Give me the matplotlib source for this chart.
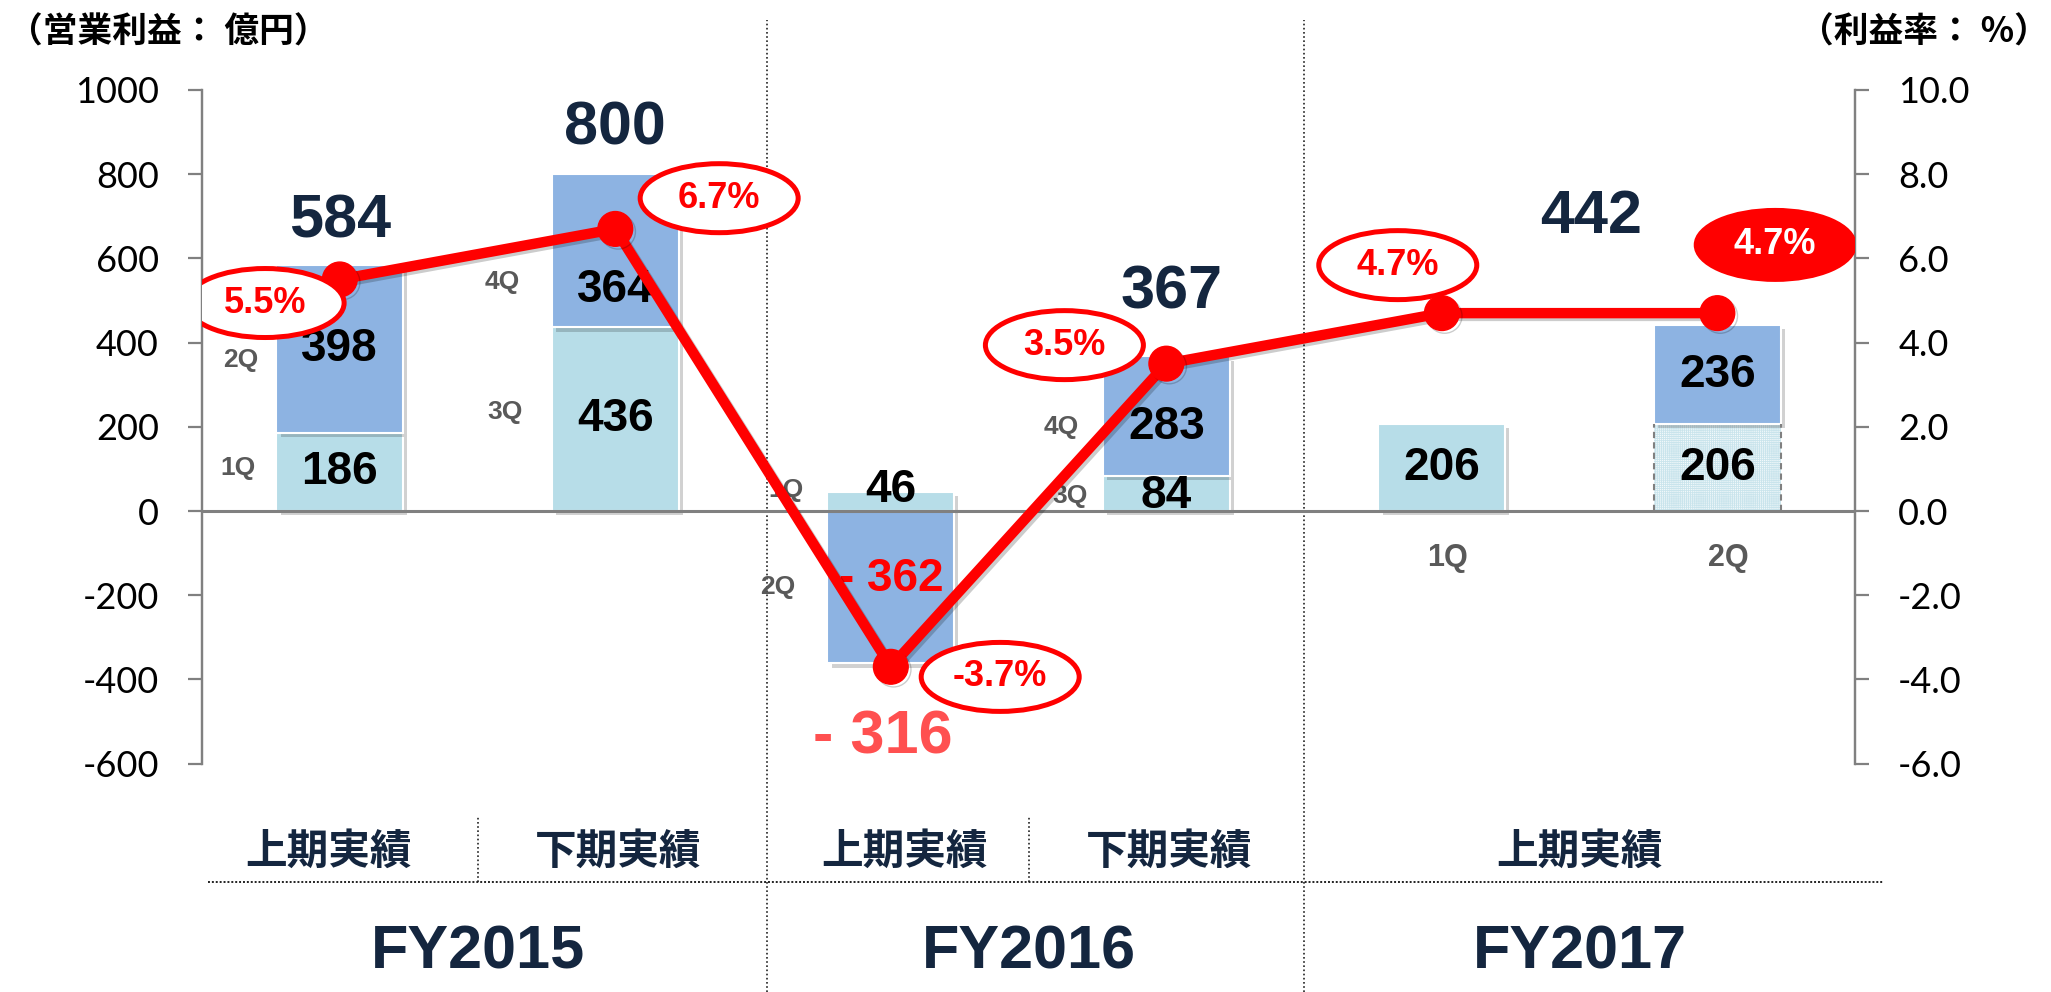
import matplotlib
matplotlib.use("Agg")
import matplotlib.pyplot as plt
from matplotlib import patheffects, transforms
from matplotlib.patches import Ellipse

# データ（億円 / %）
x_pos = [0.5, 1.5, 2.5, 3.5, 4.5, 5.5]
lower_vals = [186, 436, 46, 84, 206, 206]      # 1Q / 3Q
upper_vals = [398, 364, -362, 283, 0, 236]     # 2Q / 4Q
totals = [584, 800, -316, 367, 442]
margins = [5.5, 6.7, -3.7, 3.5, 4.7, 4.7]
q_names = ["1Q", "2Q", "3Q", "4Q", "1Q", "2Q", "3Q", "4Q", "1Q", "2Q"]
half_labels = ["上期実績", "下期実績", "上期実績", "下期実績", "上期実績"]
fy_labels = ["FY2015", "FY2016", "FY2017"]
left_ticks = [-600, -400, -200, 0, 200, 400, 600, 800, 1000]
right_ticks = [-6, -4, -2, 0, 2, 4, 6, 8, 10]

# 配置
total_pos = [(0.5, 686), (1.5, 907), (2.47, -539), (3.52, 518), (5.04, 698)]
q_pos = [(0.13, 102), (0.14, 359), (1.10, 235), (1.09, 544), (2.12, 50),
         (2.09, -180), (3.15, 36), (3.12, 200), (4.52, -112), (5.54, -112)]
q_size = [19] * 8 + [22, 22]
upper_dy = [0, -28, 6, -8, 0, 0]
ellipse_pos = [(0.229, 4.94), (1.877, 7.43), (2.897, -3.94), (3.13, 3.94),
               (4.34, 5.84), (5.71, 6.32)]
half_x = [0.46, 1.51, 2.55, 3.51, 5.0]
fy_x = [1.0, 3.0, 5.0]
sep_x = [2.05, 4.0]
sub_sep_x = [1.0, 3.0]

light = "#B7DDE8"
mid = "#8DB3E2"
navy = "#14263F"
red = "#FF0000"
bar_w = 0.46

plt.rcParams["axes.unicode_minus"] = False
plt.rcParams["hatch.linewidth"] = 0.6
num_font = "Liberation Sans"
jp_font = ["Noto Sans CJK JP", "DejaVu Sans"]

fig = plt.figure(figsize=(20.51, 9.92), dpi=100)
ax = fig.add_axes([0.0985, 0.2302, 0.806, 0.6791])
ax2 = ax.twinx()

shadow = [patheffects.withSimplePatchShadow(offset=(3, -3), shadow_rgbFace="black", alpha=0.18)]

# 棒グラフ
for i, (x, lo, up) in enumerate(zip(x_pos, lower_vals, upper_vals)):
    if i == 5:
        # 1Q累計分（点線枠）
        ax.bar(x, lo, width=bar_w, color="#F2F9FB", edgecolor="#C9E4EC", linewidth=0,
               hatch="++++++++", zorder=2)
        ax.vlines([x - bar_w / 2, x + bar_w / 2], 0, lo, colors="#808080",
                  linestyles=(0, (3, 2)), linewidth=1.5, zorder=3)
    else:
        ax.bar(x, lo, width=bar_w, color=light, edgecolor="white", linewidth=1.5,
               zorder=2, path_effects=shadow)
    if up != 0:
        bottom = lo if up > 0 else 0
        ax.bar(x, up, bottom=bottom, width=bar_w, color=mid, edgecolor="white",
               linewidth=1.5, zorder=2, path_effects=shadow)

# 棒の数値
for i, (x, lo, up) in enumerate(zip(x_pos, lower_vals, upper_vals)):
    ly = lo / 2
    if i == 2:
        ly = 50
    if i == 3:
        ly = 36
    ax.text(x, ly, str(lo), ha="center", va="center", fontsize=33,
            fontweight="bold", family=num_font, color="black", zorder=5)
    if up != 0:
        uy = lo + up / 2 if up > 0 else up / 2
        txt = str(up) if up > 0 else "- " + str(abs(up))
        col = "black" if up > 0 else red
        ax.annotate(txt, (x, uy), xytext=(0, upper_dy[i]), textcoords="offset points",
                    ha="center", va="center", fontsize=33, fontweight="bold",
                    family=num_font, color=col, zorder=5)

# 合計
for (tx, ty), v in zip(total_pos, totals):
    txt = str(v) if v > 0 else "- " + str(abs(v))
    col = navy if v > 0 else "#FF5050"
    ax.text(tx, ty, txt, ha="center", va="center", fontsize=44, fontweight="bold",
            family=num_font, color=col, zorder=6)

# 四半期ラベル
for (qx, qy), name, s in zip(q_pos, q_names, q_size):
    ax.text(qx, qy, name, ha="center", va="center", fontsize=s, fontweight="bold",
            family=num_font, color="#595959", zorder=4)

ax.axhline(0, color="#808080", linewidth=2.2, zorder=3)

# 利益率
line_fx = [patheffects.SimpleLineShadow(offset=(2, -2), alpha=0.2), patheffects.Normal()]
ax2.plot(x_pos, margins, color=red, linewidth=7.5, marker="o", markersize=25,
         zorder=5, solid_capstyle="round", path_effects=line_fx)

for i, ((ex, ey), m) in enumerate(zip(ellipse_pos, margins)):
    trans = fig.dpi_scale_trans + transforms.ScaledTranslation(ex, ey, ax2.transData)
    filled = i == 5
    ax2.add_patch(Ellipse((0, 0), 1.58, 0.69, transform=trans,
                          facecolor=red if filled else "white", edgecolor=red,
                          linewidth=3.6, zorder=7))
    ax2.text(ex, ey, f"{m:.1f}%", ha="center", va="center", fontsize=26,
             fontweight="bold", family=num_font, color="white" if filled else red,
             zorder=8)

# 軸
ax.set_xlim(0, 6)
ax.set_ylim(-600, 1000)
ax2.set_ylim(-6, 10)
ax.set_yticks(left_ticks)
ax.set_yticklabels([str(t) for t in left_ticks])
ax2.set_yticks(right_ticks)
ax2.set_yticklabels([f"{t:.1f}" for t in right_ticks])
ax.set_xticks([])
for a in (ax, ax2):
    for side in ("top", "bottom"):
        a.spines[side].set_visible(False)
    a.spines["left"].set_color("#808080")
    a.spines["right"].set_color("#808080")
    a.spines["left"].set_linewidth(1.6)
    a.spines["right"].set_linewidth(1.6)
    a.tick_params(axis="y", length=10, width=1.6, color="#808080", pad=21,
                  labelsize=26, labelcolor="black")
    for lab in a.get_yticklabels():
        lab.set_family("Lato")
ax.patch.set_visible(False)

# 区切り線と下のラベル
blend = transforms.blended_transform_factory(ax.transData, fig.transFigure)
for sx in sep_x:
    ax.plot([sx, sx], [0.0, 0.98], transform=blend, clip_on=False, color="#222222",
            linewidth=1.2, linestyle=(0, (1, 1.5)), zorder=1)
for sx in sub_sep_x:
    ax.plot([sx, sx], [0.111, 0.176], transform=blend, clip_on=False, color="#222222",
            linewidth=1.2, linestyle=(0, (1, 1.5)))
ax.plot([0.02, 6.1], [0.111, 0.111], transform=blend, clip_on=False, color="#222222",
        linewidth=1.4, linestyle=(0, (1, 1)))

for hx, lab in zip(half_x, half_labels):
    ax.text(hx, 0.141, lab, transform=blend, ha="center", va="center", fontsize=30,
            fontweight="bold", family=jp_font, color=navy)
for fx, lab in zip(fy_x, fy_labels):
    ax.text(fx, 0.039, lab, transform=blend, ha="center", va="center", fontsize=44,
            fontweight="bold", family=num_font, color=navy)

fig.text(0.004, 0.985, "（営業利益： 億円）", ha="left", va="top", fontsize=25,
         fontweight="bold", family=jp_font, color="black")
fig.text(0.999, 0.985, "（利益率： %）", ha="right", va="top", fontsize=25,
         fontweight="bold", family=jp_font, color="black")

fig.savefig("out.png", dpi=100)
